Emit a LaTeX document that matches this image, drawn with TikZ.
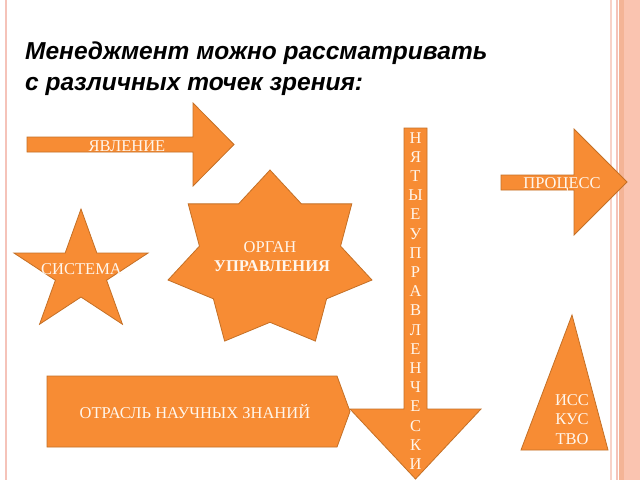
\documentclass[tikz,border=0pt]{standalone}
\usepackage{fontspec}
\setmainfont{Liberation Serif}
\newfontfamily\titlefont{Liberation Sans}
\newfontfamily\labelfont{Liberation Serif}
\definecolor{shapefill}{RGB}{247,140,52}
\definecolor{shapeline}{RGB}{196,112,38}
\definecolor{shapetext}{RGB}{255,246,236}
\definecolor{bsalmon}{RGB}{250,196,176}
\definecolor{bdark}{RGB}{244,180,150}
\definecolor{bpink}{RGB}{245,195,185}
\definecolor{blight}{RGB}{248,210,200}
\tikzset{
  shapebox/.style={fill=shapefill, draw=shapeline, line width=0.8pt, line join=miter},
  lbl/.style={text=shapetext, font=\labelfont\fontsize{16.5}{19}\selectfont, anchor=base, inner sep=0pt},
  titletext/.style={font=\titlefont\bfseries\itshape\fontsize{24.5}{31}\selectfont, anchor=base west, inner sep=0pt, text=black}
}
\begin{document}
\begin{tikzpicture}[x=1pt,y=-1pt]
\useasboundingbox (0,0) rectangle (640,480);
\fill[white] (0,0) rectangle (640,480);
% slide borders
\fill[bsalmon] (624,0) rectangle (640,480);
\fill[bdark] (619,0) rectangle (623.5,480);
\fill[bpink] (615.5,0) rectangle (617.5,480);
\fill[blight] (610,0) rectangle (612,480);
\fill[bpink] (5,0) rectangle (7,480);
% title
\node[titletext] (t1) at (25,59) {Менеджмент можно рассматривать};
\node[titletext] (t2) at (25,90) {с различных точек зрения:};
% arrow: ЯВЛЕНИЕ
\draw[shapebox] (27,137) -- (193,137) -- (193,103) -- (234,144.5) -- (193,186) -- (193,152) -- (27,152) -- cycle;
\node[lbl] (yavl) at (127,151) {ЯВЛЕНИЕ};
% arrow: ПРОЦЕСС
\draw[shapebox] (501,175) -- (574,175) -- (574,129) -- (627,182) -- (574,235) -- (574,190) -- (501,190) -- cycle;
\node[lbl] (proc) at (562,188) {ПРОЦЕСС};
% star 5: СИСТЕМА
\draw[shapebox]
  ({81+70.5*sin(0)},{272.7-63.7*cos(0)})
  \foreach \k in {1,...,9}{
    -- ({81+70.5*(mod(\k,2)==1 ? 0.382 : 1)*sin(36*\k)},{272.7-63.7*(mod(\k,2)==1 ? 0.382 : 1)*cos(36*\k)})
  } -- cycle;
\node[lbl] (sist) at (81.5,274) {СИСТЕМА};
% star 7: ОРГАН УПРАВЛЕНИЯ
\draw[shapebox]
  ({270+104.6*sin(0)},{260-90*cos(0)})
  \foreach \k in {1,...,13}{
    -- ({270+104.6*(mod(\k,2)==1 ? 0.692 : 1)*sin(360/14*\k)},{260-90*(mod(\k,2)==1 ? 0.692 : 1)*cos(360/14*\k)})
  } -- cycle;
\node[lbl] (organ) at (270,252) {ОРГАН};
\node[lbl, font=\labelfont\bfseries\fontsize{16.5}{19}\selectfont] (upr) at (272,271) {УПРАВЛЕНИЯ};
% pentagon: ОТРАСЛЬ НАУЧНЫХ ЗНАНИЙ
\draw[shapebox] (47,376) -- (337,376) -- (350,411.5) -- (337,447) -- (47,447) -- cycle;
\node[lbl] (otr) at (195,418) {ОТРАСЛЬ НАУЧНЫХ ЗНАНИЙ};
% vertical arrow
\draw[shapebox] (404,128) -- (427,128) -- (427,409) -- (481,409) -- (415.5,479) -- (350,409) -- (404,409) -- cycle;
\foreach \ch [count=\i from 0] in {Н,Я,Т,Ы,Е,У,П,Р,А,В,Л,Е,Н,Ч,Е,С,К,И}{
  \node[lbl] (v\i) at (415.5,{143+19.2*\i}) {\ch};
}
% triangle: ИСС КУС ТВО
\draw[shapebox] (572,315) -- (608,450) -- (521,450) -- cycle;
\node[lbl] (iss) at (572,405) {ИСС};
\node[lbl] (kus) at (572,424) {КУС};
\node[lbl] (tvo) at (572,444) {ТВО};
\end{tikzpicture}
\end{document}
